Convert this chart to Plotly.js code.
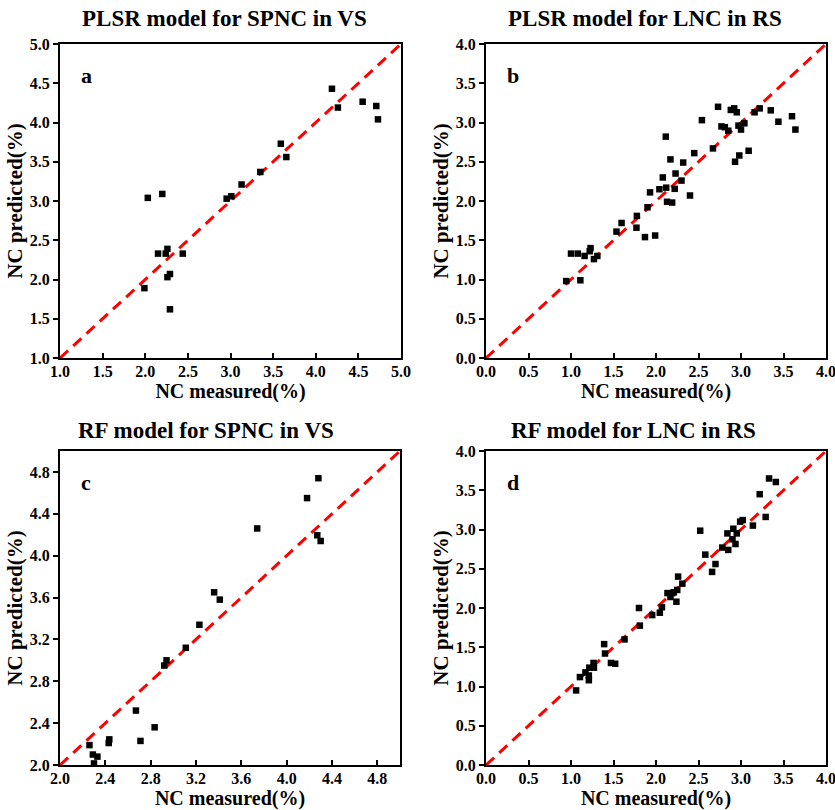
<!DOCTYPE html>
<html>
<head>
<meta charset="utf-8">
<script src="https://cdn.plot.ly/plotly-3.0.1.min.js"></script>
<style>html,body{margin:0;padding:0;background:#fff;}#chart{width:835px;height:810px;}</style>
</head>
<body>
<div id="chart"></div>
<script>
// Panel a: PLSR model for SPNC in VS
const aMeasured = [4.19, 4.26, 4.55, 4.71, 4.73, 3.59, 3.655, 3.35, 3.13, 2.955, 3.01, 2.03, 2.20, 2.15, 2.24, 2.26, 2.44, 2.29, 2.26, 1.99, 2.29];
const aPredicted = [4.43, 4.19, 4.265, 4.21, 4.04, 3.73, 3.56, 3.37, 3.21, 3.03, 3.06, 3.04, 3.09, 2.33, 2.33, 2.39, 2.33, 2.07, 2.03, 1.89, 1.62];

// Panel b: PLSR model for LNC in RS
const bMeasured = [0.944, 1.00, 1.08, 1.11, 1.16, 1.23, 1.22, 1.27, 1.31, 1.535, 1.595, 1.77, 1.775, 1.87, 1.99, 1.90, 1.93, 2.04, 2.08, 2.12, 2.115, 2.13, 2.19, 2.17, 2.22, 2.23, 2.30, 2.32, 2.40, 2.45, 2.54, 2.67, 2.73, 2.77, 2.81, 2.85, 2.88, 2.92, 2.95, 2.97, 3.00, 3.04, 2.93, 2.98, 3.09, 3.16, 3.22, 3.35, 3.44, 3.60, 3.64];
const bPredicted = [0.98, 1.33, 1.33, 0.99, 1.30, 1.40, 1.36, 1.26, 1.30, 1.61, 1.72, 1.66, 1.81, 1.54, 1.56, 1.92, 2.11, 2.15, 2.30, 2.17, 2.82, 1.99, 1.98, 2.53, 2.155, 2.35, 2.26, 2.49, 2.07, 2.61, 3.03, 2.67, 3.20, 2.95, 2.94, 2.895, 3.16, 3.18, 3.13, 2.96, 2.91, 2.99, 2.50, 2.58, 2.64, 3.13, 3.18, 3.155, 3.01, 3.08, 2.91];

// Panel c: RF model for SPNC in VS
const cMeasured = [4.28, 4.18, 3.74, 4.27, 4.30, 3.36, 3.41, 3.23, 3.11, 2.94, 2.92, 2.67, 2.835, 2.71, 2.435, 2.43, 2.26, 2.29, 2.33, 2.30];
const cPredicted = [4.74, 4.55, 4.26, 4.195, 4.14, 3.65, 3.58, 3.34, 3.12, 3.00, 2.95, 2.52, 2.36, 2.23, 2.245, 2.21, 2.19, 2.10, 2.08, 2.015];

// Panel d: RF model for LNC in RS
const dMeasured = [1.06, 1.105, 1.17, 1.21, 1.21, 1.215, 1.265, 1.27, 1.39, 1.40, 1.47, 1.52, 1.63, 1.80, 1.81, 1.955, 2.045, 2.07, 2.135, 2.17, 2.19, 2.21, 2.24, 2.25, 2.26, 2.31, 2.52, 2.58, 2.66, 2.70, 2.78, 2.84, 2.85, 2.90, 2.91, 2.935, 2.95, 2.99, 3.02, 3.14, 3.22, 3.29, 3.33, 3.41];
const dPredicted = [0.95, 1.12, 1.18, 1.08, 1.14, 1.24, 1.30, 1.24, 1.54, 1.42, 1.30, 1.29, 1.60, 2.00, 1.775, 1.91, 1.94, 2.01, 2.19, 2.14, 2.19, 2.20, 2.08, 2.23, 2.40, 2.31, 2.985, 2.68, 2.46, 2.56, 2.77, 2.95, 2.74, 2.875, 3.01, 2.815, 2.95, 3.10, 3.12, 3.05, 3.45, 3.16, 3.65, 3.605];

const panelTitles = ["PLSR model for SPNC in VS", "PLSR model for LNC in RS", "RF model for SPNC in VS", "RF model for LNC in RS"];
const panelLetters = ["a", "b", "c", "d"];
const ranges = [[1, 5], [0, 4], [2, 5], [0, 4]];
const dticks = [0.5, 0.5, 0.4, 0.5];
const xTitle = "NC measured(%)";
const yTitle = "NC predicted(%)";

const W = 835, H = 810;
const boxes = [
  {x0: 60, x1: 401, y0: 44, y1: 358},
  {x0: 486, x1: 826, y0: 44, y1: 358},
  {x0: 60, x1: 400, y0: 451, y1: 765},
  {x0: 486, x1: 826, y0: 451, y1: 765}
];
const titleCenters = [[224, 18], [645, 18], [206, 430], [633, 430]];

const serif = "Liberation Serif, Times New Roman, serif";
const xs = [aMeasured, bMeasured, cMeasured, dMeasured];
const ys = [aPredicted, bPredicted, cPredicted, dPredicted];

const traces = [];
const layout = {
  width: W, height: H,
  margin: {l: 0, r: 0, t: 0, b: 0},
  paper_bgcolor: "#fff", plot_bgcolor: "#fff",
  showlegend: false,
  font: {family: serif, color: "#000"},
  annotations: []
};

for (let i = 0; i < 4; i++) {
  const ax = i === 0 ? "" : String(i + 1);
  const b = boxes[i];
  const r = ranges[i];
  traces.push({
    type: "scatter", mode: "lines",
    x: [r[0], r[1]], y: [r[0], r[1]],
    xaxis: "x" + ax, yaxis: "y" + ax,
    line: {color: "#ff0000", width: 3, dash: "11px,7px"},
    hoverinfo: "skip"
  });
  traces.push({
    type: "scatter", mode: "markers",
    x: xs[i], y: ys[i],
    xaxis: "x" + ax, yaxis: "y" + ax,
    marker: {symbol: "square", size: 6.5, color: "#000"}
  });
  const axisCommon = {
    range: r, dtick: dticks[i], tick0: r[0], tickformat: ".1f",
    showgrid: false, zeroline: false,
    showline: true, linecolor: "#000", linewidth: 2, mirror: true,
    ticklen: 5, tickwidth: 2, tickcolor: "#000",
    ticklabeloverflow: "allow",
    tickfont: {family: serif, size: 16, color: "#000", weight: "bold"},
    fixedrange: true
  };
  layout["xaxis" + ax] = Object.assign({}, axisCommon, {
    domain: [b.x0 / W, b.x1 / W],
    anchor: "y" + ax,
    ticks: "inside",
    ticklabelstandoff: -2,
    title: {text: xTitle, font: {family: serif, size: 20, color: "#000", weight: "bold"}, standoff: 2}
  });
  layout["yaxis" + ax] = Object.assign({}, axisCommon, {
    domain: [1 - b.y1 / H, 1 - b.y0 / H],
    anchor: "x" + ax,
    ticks: "outside",
    title: {text: yTitle, font: {family: serif, size: 21, color: "#000", weight: "bold"}, standoff: 1}
  });
  layout.annotations.push({
    text: panelTitles[i], xref: "paper", yref: "paper",
    x: titleCenters[i][0] / W, y: 1 - titleCenters[i][1] / H,
    xanchor: "center", yanchor: "middle", showarrow: false,
    font: {family: serif, size: 23, color: "#000", weight: "bold"}
  });
  layout.annotations.push({
    text: panelLetters[i], xref: "x" + ax + " domain", yref: "y" + ax + " domain",
    x: 0.055, y: 0.9, xanchor: "left", yanchor: "middle", showarrow: false,
    font: {family: serif, size: 22, color: "#000", weight: "bold"}
  });
}

Plotly.newPlot("chart", traces, layout, {displayModeBar: false, staticPlot: true});
</script>
</body>
</html>
